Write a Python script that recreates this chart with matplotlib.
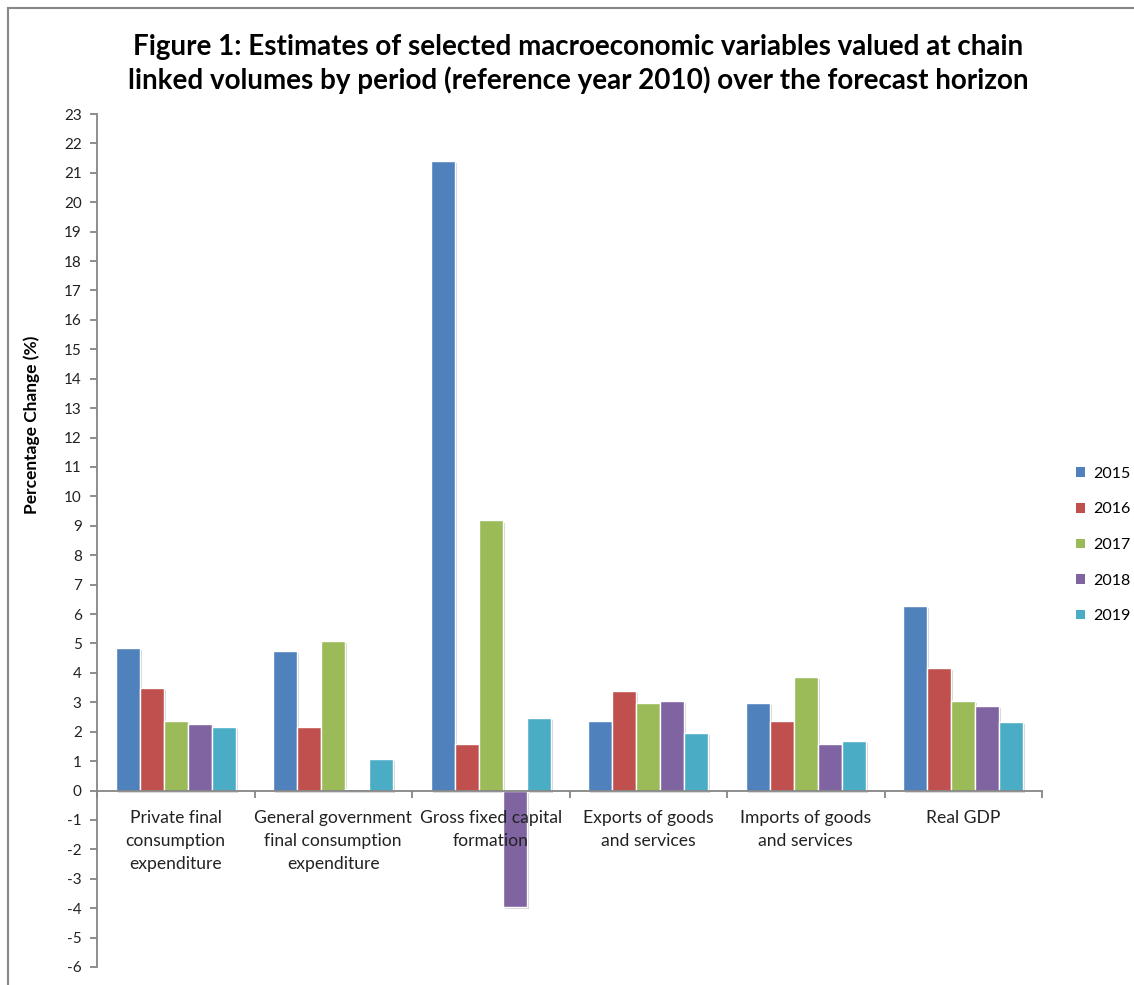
import matplotlib
matplotlib.use("Agg")
import matplotlib.pyplot as plt
import matplotlib.patheffects as pe
from matplotlib.lines import Line2D
from matplotlib.patches import Patch
import numpy as np

plt.rcParams['font.family'] = ['Lato', 'DejaVu Sans']

categories = ["Private final\nconsumption\nexpenditure",
              "General government\nfinal consumption\nexpenditure",
              "Gross fixed capital\nformation",
              "Exports of goods\nand services",
              "Imports of goods\nand services",
              "Real GDP"]
years = ["2015", "2016", "2017", "2018", "2019"]
v2015 = [4.85, 4.75, 21.4, 2.35, 2.97, 6.27]
v2016 = [3.48, 2.15, 1.57, 3.38, 2.35, 4.18]
v2017 = [2.35, 5.07, 9.18, 2.97, 3.86, 3.05]
v2018 = [2.25, 0.05, -3.95, 3.05, 1.57, 2.86]
v2019 = [2.15, 1.07, 2.47, 1.96, 1.67, 2.34]
series = [v2015, v2016, v2017, v2018, v2019]
colors = ["#4F81BD", "#C0504D", "#9BBB59", "#8064A2", "#4BACC6"]

fig = plt.figure(figsize=(11.34, 9.85), dpi=100)
ax = fig.add_axes([97/1134, 1-967/985, (1042-97)/1134, (967-114)/985])

x = np.arange(len(categories))
w = 0.152
shadow = [pe.SimplePatchShadow(offset=(1.5, -1.5), shadow_rgbFace=(0.5, 0.5, 0.5), alpha=0.35), pe.Normal()]
for i, (vals, c) in enumerate(zip(series, colors)):
    bars = ax.bar(x + (i - 2) * w, vals, width=w, color=c, edgecolor="white",
                  linewidth=1.0, label=years[i], zorder=1)
    for b in bars:
        b.set_path_effects(shadow)

ax.set_xlim(-0.5, len(categories) - 0.5)
ax.set_ylim(-6, 23)
ax.set_yticks(range(-6, 24))
ax.set_yticklabels([str(t) for t in range(-6, 24)], fontsize=11, color="#222222")

spine_c = "#868686"
for s in ["top", "right"]:
    ax.spines[s].set_visible(False)
ax.spines["bottom"].set_position(("data", 0))
ax.spines["bottom"].set_color(spine_c)
ax.spines["left"].set_color(spine_c)
ax.spines["bottom"].set_linewidth(1.3)
ax.spines["left"].set_linewidth(1.3)

ax.set_xticks(x)
ax.set_xticklabels(categories, fontsize=12.6, color="#222222", linespacing=1.55)
ax.tick_params(axis="x", which="major", length=0, pad=14)
ax.set_xticks(np.arange(-0.5, len(categories)), minor=True)
ax.tick_params(axis="x", which="minor", length=5, direction="out", color=spine_c, width=1.3)
ax.tick_params(axis="y", length=5, direction="out", color=spine_c, width=1.3, pad=6)

ax.set_ylabel("Percentage Change (%)", fontsize=12.5, fontweight="bold")
ax.yaxis.set_label_coords(-57/945, (967-425)/853)

fig.text(578/1134, 1-64/985, "Figure 1: Estimates of selected macroeconomic variables valued at chain\n"
         "linked volumes by period (reference year 2010) over the forecast horizon",
         ha="center", va="center", fontsize=20, fontweight="bold", linespacing=1.25)

handles = [Patch(facecolor=c, edgecolor="none") for c in colors]
fig.legend(handles, years, loc="center left", bbox_to_anchor=(1062/1134, 1-545/985),
           frameon=False, fontsize=11.5, handlelength=0.55, handleheight=0.55,
           handletextpad=0.5, labelspacing=1.35)

fig.add_artist(Line2D([8/1134, 8/1134], [0, 1-8/985], color="#888888", lw=1.5, transform=fig.transFigure))
fig.add_artist(Line2D([8/1134, 1], [1-8/985, 1-8/985], color="#888888", lw=1.5, transform=fig.transFigure))

fig.savefig("out.png", dpi=100, facecolor="white")
